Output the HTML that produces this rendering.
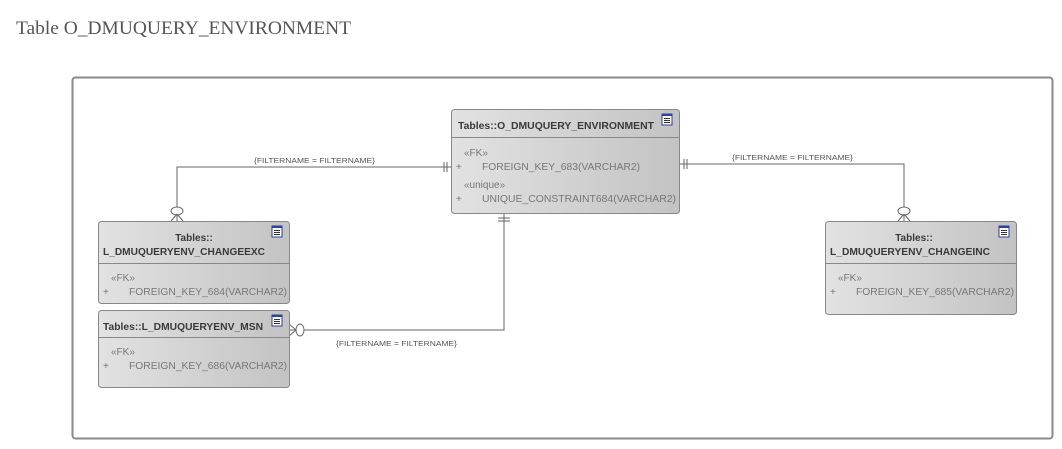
<!DOCTYPE html>
<html><head><meta charset="utf-8"><style>
html,body{margin:0;padding:0;background:#fff;width:1062px;height:449px;overflow:hidden}
svg{display:block}
text{font-family:"Liberation Sans",sans-serif}
</style></head><body>
<svg width="1062" height="449" viewBox="0 0 1062 449" xmlns="http://www.w3.org/2000/svg">
<defs>
<linearGradient id="g" x1="0" y1="0" x2="1" y2="0">
<stop offset="0" stop-color="#e2e2e2"/><stop offset="1" stop-color="#c3c3c3"/>
</linearGradient>
<g id="ic"><rect x="0" y="0" width="10" height="11" fill="#fff" stroke="#2b3f8f" stroke-width="1"/><rect x="0" y="0" width="10" height="2" fill="#2b3fbf"/><line x1="2" y1="4.5" x2="8" y2="4.5" stroke="#333"/><line x1="2" y1="6.5" x2="8" y2="6.5" stroke="#333"/><line x1="2" y1="8.5" x2="8" y2="8.5" stroke="#333"/></g>
</defs>
<text x="16" y="34" font-family="Liberation Serif" style="font-family:'Liberation Serif',serif" font-size="19" fill="#555" textLength="335" lengthAdjust="spacingAndGlyphs">Table O_DMUQUERY_ENVIRONMENT</text>
<rect x="72.5" y="77.5" width="980" height="361" rx="3" fill="#fff" stroke="#8a8a8a" stroke-width="2"/>

<g stroke="#666" stroke-width="1" fill="none">
<!-- left connector -->
<polyline points="451,167 177,167 177,221"/>
<line x1="444" y1="162" x2="444" y2="172"/><line x1="447" y1="162" x2="447" y2="172"/>
<ellipse cx="177" cy="211" rx="6" ry="4" fill="#fff"/>
<line x1="171" y1="221" x2="177" y2="214"/><line x1="183" y1="221" x2="177" y2="214"/>
<!-- right connector -->
<polyline points="679,164 904,164 904,221"/>
<line x1="684" y1="159" x2="684" y2="169"/><line x1="687" y1="159" x2="687" y2="169"/>
<ellipse cx="904" cy="211" rx="6" ry="4" fill="#fff"/>
<line x1="898" y1="221" x2="904" y2="214"/><line x1="910" y1="221" x2="904" y2="214"/>
<!-- bottom connector -->
<polyline points="504,213 504,330 289,330"/>
<line x1="498" y1="218" x2="510" y2="218"/><line x1="498" y1="221" x2="510" y2="221"/>
<ellipse cx="300" cy="330" rx="4" ry="6" fill="#fff"/>
<line x1="289" y1="324" x2="296" y2="330"/><line x1="289" y1="336" x2="296" y2="330"/>
</g>
<g font-size="7.5" fill="#555">
<text x="254" y="163" textLength="121" lengthAdjust="spacingAndGlyphs">{FILTERNAME = FILTERNAME}</text>
<text x="732" y="160" textLength="121" lengthAdjust="spacingAndGlyphs">{FILTERNAME = FILTERNAME}</text>
<text x="336" y="346" textLength="121" lengthAdjust="spacingAndGlyphs">{FILTERNAME = FILTERNAME}</text>
</g>

<!-- main box -->
<rect x="451.5" y="109.5" width="228" height="104" rx="3" fill="url(#g)" stroke="#888"/>
<line x1="452" y1="137.5" x2="679" y2="137.5" stroke="#888"/>
<use href="#ic" x="662" y="114"/>
<text x="458" y="129" font-size="10" font-weight="bold" fill="#3a3a3a" textLength="196" lengthAdjust="spacingAndGlyphs">Tables::O_DMUQUERY_ENVIRONMENT</text>
<g font-size="10" fill="#777">
<text x="464" y="156">«FK»</text>
<text x="456" y="170">+</text>
<text x="482" y="170" textLength="158" lengthAdjust="spacingAndGlyphs">FOREIGN_KEY_683(VARCHAR2)</text>
<text x="464" y="188">«unique»</text>
<text x="456" y="202">+</text>
<text x="482" y="202" textLength="194" lengthAdjust="spacingAndGlyphs">UNIQUE_CONSTRAINT684(VARCHAR2)</text>
</g>

<!-- CHANGEEXC -->
<rect x="98.5" y="221.5" width="191" height="82" rx="3" fill="url(#g)" stroke="#888"/>
<line x1="99" y1="263.5" x2="289" y2="263.5" stroke="#888"/>
<use href="#ic" x="272" y="226"/>
<text x="194" y="241" text-anchor="middle" font-size="10" font-weight="bold" fill="#3a3a3a">Tables::</text>
<text x="103" y="255" font-size="10" font-weight="bold" fill="#3a3a3a" textLength="162" lengthAdjust="spacingAndGlyphs">L_DMUQUERYENV_CHANGEEXC</text>
<g font-size="10" fill="#777">
<text x="111" y="281">«FK»</text>
<text x="103" y="295">+</text>
<text x="129" y="295" textLength="158" lengthAdjust="spacingAndGlyphs">FOREIGN_KEY_684(VARCHAR2)</text>
</g>

<!-- MSN -->
<rect x="98.5" y="310.5" width="191" height="77" rx="3" fill="url(#g)" stroke="#888"/>
<line x1="99" y1="337.5" x2="289" y2="337.5" stroke="#888"/>
<use href="#ic" x="272" y="315"/>
<text x="103" y="330" font-size="10" font-weight="bold" fill="#3a3a3a" textLength="160" lengthAdjust="spacingAndGlyphs">Tables::L_DMUQUERYENV_MSN</text>
<g font-size="10" fill="#777">
<text x="111" y="355">«FK»</text>
<text x="103" y="369">+</text>
<text x="129" y="369" textLength="158" lengthAdjust="spacingAndGlyphs">FOREIGN_KEY_686(VARCHAR2)</text>
</g>

<!-- CHANGEINC -->
<rect x="825.5" y="221.5" width="191" height="93" rx="3" fill="url(#g)" stroke="#888"/>
<line x1="826" y1="263.5" x2="1016" y2="263.5" stroke="#888"/>
<use href="#ic" x="999" y="226"/>
<text x="914" y="241" text-anchor="middle" font-size="10" font-weight="bold" fill="#3a3a3a">Tables::</text>
<text x="830" y="255" font-size="10" font-weight="bold" fill="#3a3a3a" textLength="160" lengthAdjust="spacingAndGlyphs">L_DMUQUERYENV_CHANGEINC</text>
<g font-size="10" fill="#777">
<text x="838" y="281">«FK»</text>
<text x="830" y="295">+</text>
<text x="856" y="295" textLength="158" lengthAdjust="spacingAndGlyphs">FOREIGN_KEY_685(VARCHAR2)</text>
</g>
</svg>
</body></html>
